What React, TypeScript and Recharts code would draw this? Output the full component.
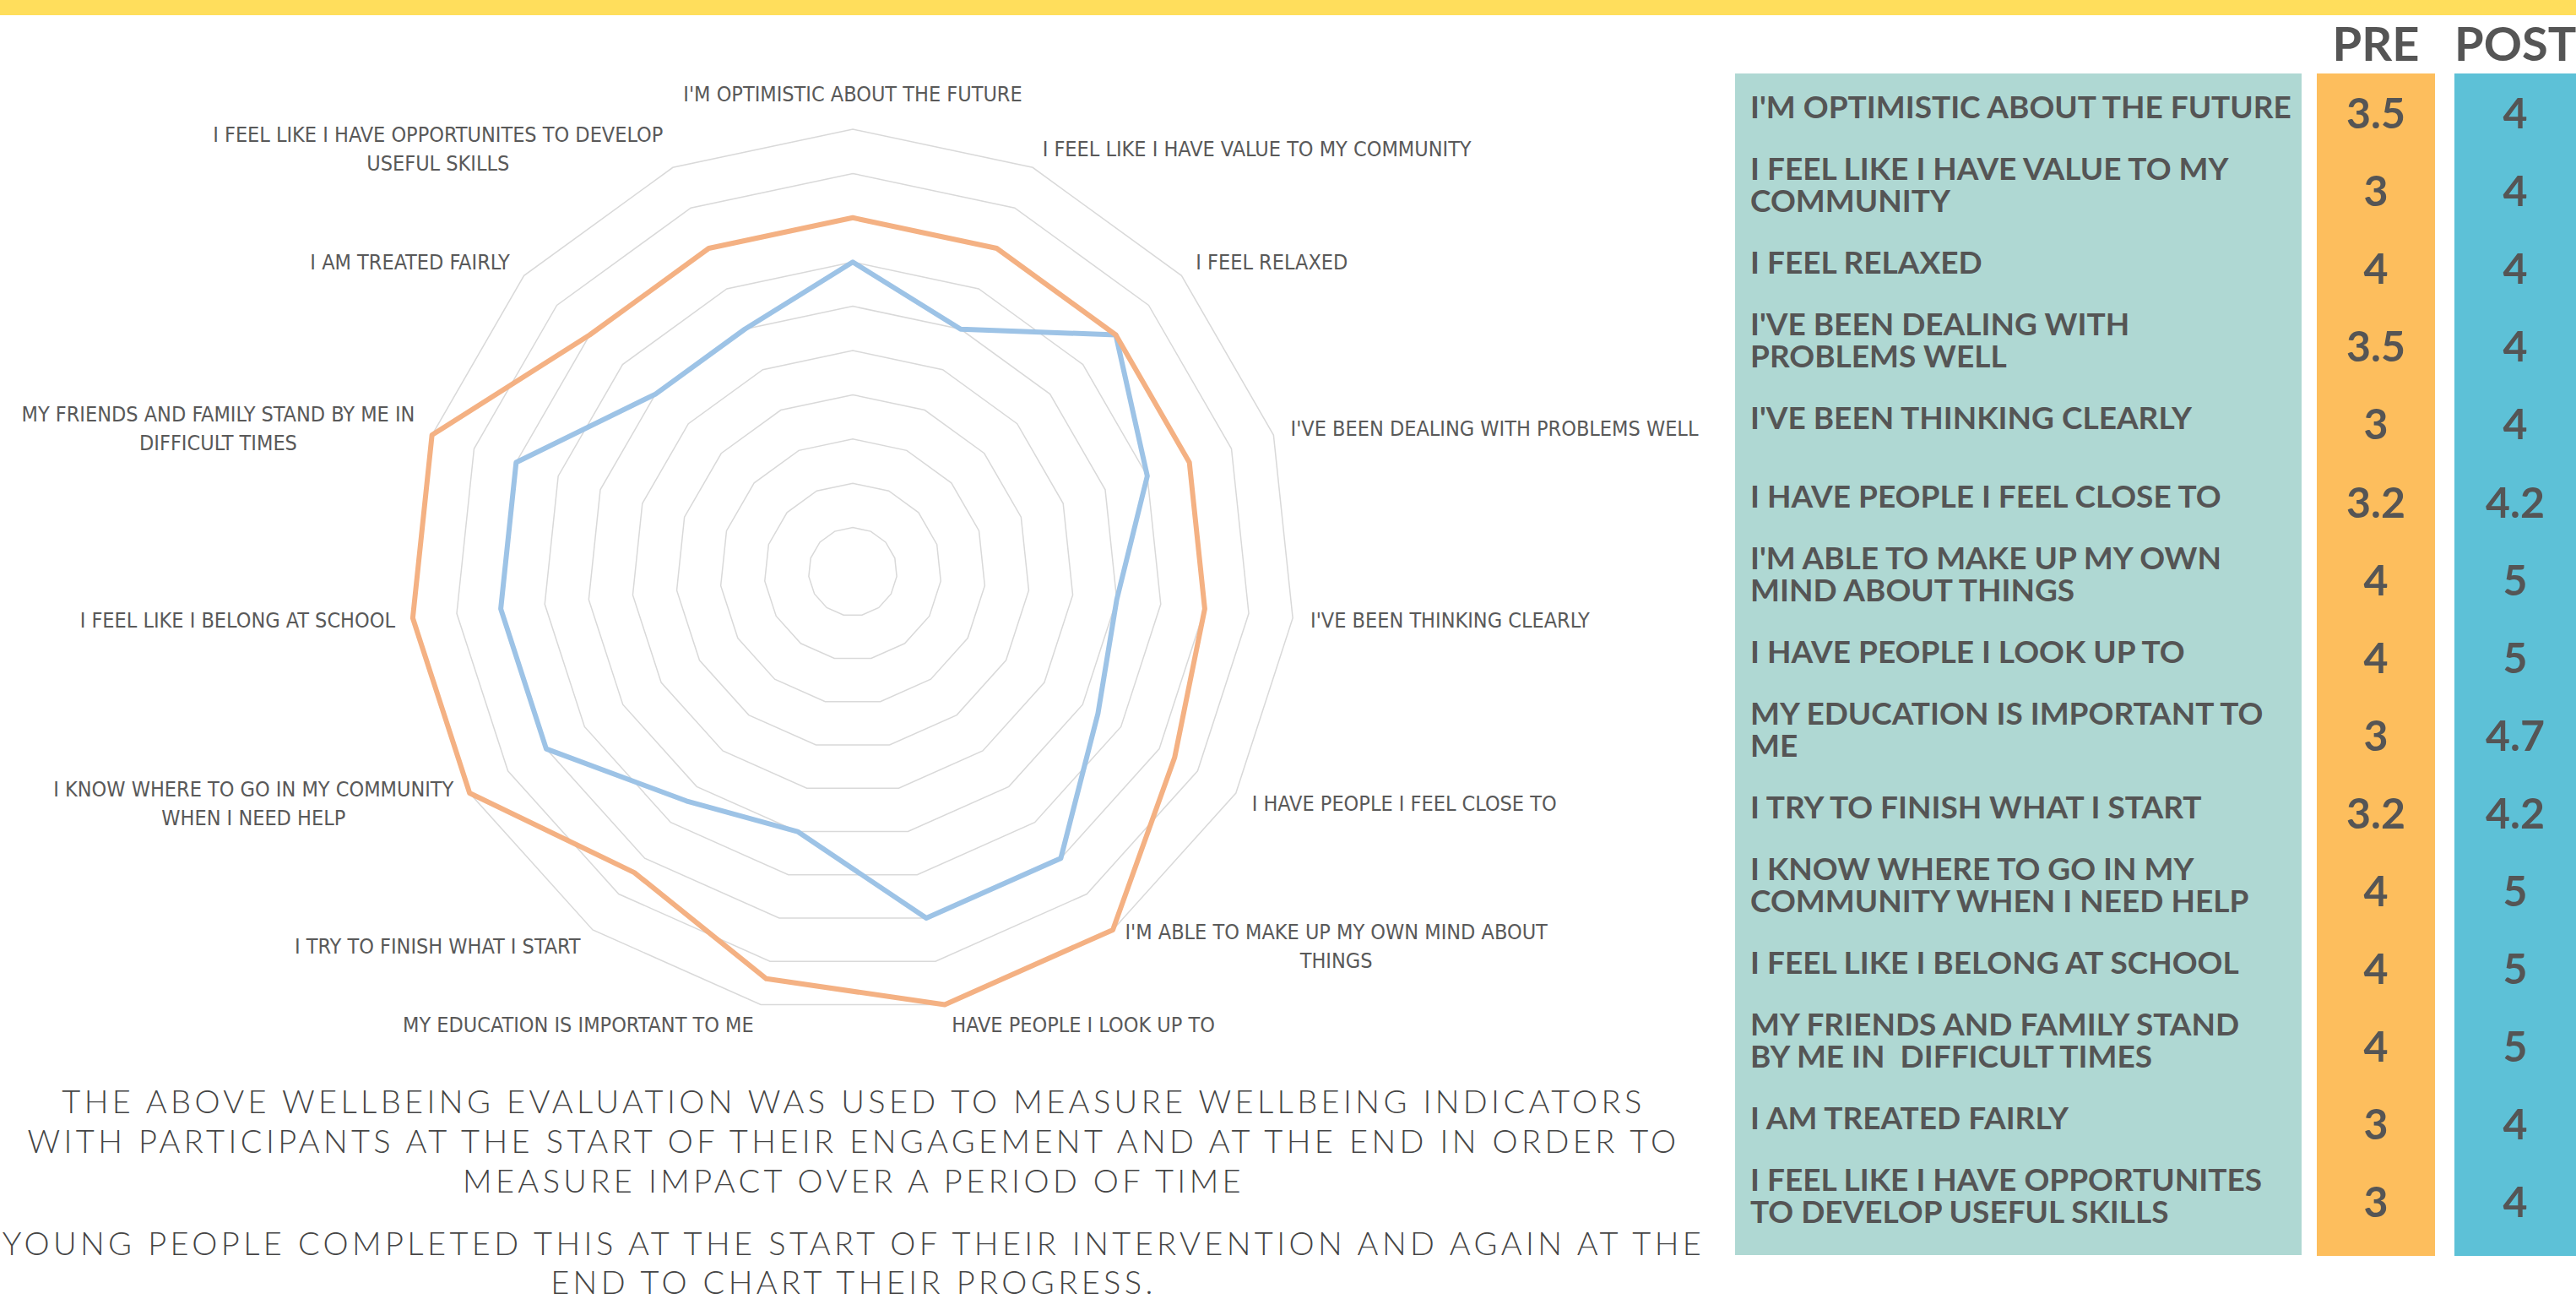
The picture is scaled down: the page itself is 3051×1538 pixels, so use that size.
import React from 'react';
import { RadarChart, Radar, PolarGrid, PolarAngleAxis, PolarRadiusAxis } from 'recharts';

const categories = [
  "I'M OPTIMISTIC ABOUT THE FUTURE",
  'I FEEL LIKE I HAVE VALUE TO MY COMMUNITY',
  'I FEEL RELAXED',
  "I'VE BEEN DEALING WITH PROBLEMS WELL",
  "I'VE BEEN THINKING CLEARLY",
  'I HAVE PEOPLE I FEEL CLOSE TO',
  "I'M ABLE TO MAKE UP MY OWN MIND ABOUT THINGS",
  'I HAVE PEOPLE I LOOK UP TO',
  'MY EDUCATION IS IMPORTANT TO ME',
  'I TRY TO FINISH WHAT I START',
  'I KNOW WHERE TO GO IN MY COMMUNITY WHEN I NEED HELP',
  'I FEEL LIKE I BELONG AT SCHOOL',
  'MY FRIENDS AND FAMILY STAND BY ME IN DIFFICULT TIMES',
  'I AM TREATED FAIRLY',
  'I FEEL LIKE I HAVE OPPORTUNITES TO DEVELOP USEFUL SKILLS',
];

// labels as they sit round the radar (line breaks as in the original)
const radarLabels = [
  ["I'M OPTIMISTIC ABOUT THE FUTURE"],
  ['I FEEL LIKE I HAVE VALUE TO MY COMMUNITY'],
  ['I FEEL RELAXED'],
  ["I'VE BEEN DEALING WITH PROBLEMS WELL"],
  ["I'VE BEEN THINKING CLEARLY"],
  ['I HAVE PEOPLE I FEEL CLOSE TO'],
  ["I'M ABLE TO MAKE UP MY OWN MIND ABOUT", 'THINGS'],
  ['HAVE PEOPLE I LOOK UP TO'],
  ['MY EDUCATION IS IMPORTANT TO ME'],
  ['I TRY TO FINISH WHAT I START'],
  ['I KNOW WHERE TO GO IN MY COMMUNITY', 'WHEN I NEED HELP'],
  ['I FEEL LIKE I BELONG AT SCHOOL'],
  ['MY FRIENDS AND FAMILY STAND BY ME IN', 'DIFFICULT TIMES'],
  ['I AM TREATED FAIRLY'],
  ['I FEEL LIKE I HAVE OPPORTUNITES TO DEVELOP', 'USEFUL SKILLS'],
];

// labels in the table on the right
const tableLabels = [
  ["I'M OPTIMISTIC ABOUT THE FUTURE"],
  ['I FEEL LIKE I HAVE VALUE TO MY', 'COMMUNITY'],
  ['I FEEL RELAXED'],
  ["I'VE BEEN DEALING WITH", 'PROBLEMS WELL'],
  ["I'VE BEEN THINKING CLEARLY"],
  ['I HAVE PEOPLE I FEEL CLOSE TO'],
  ["I'M ABLE TO MAKE UP MY OWN", 'MIND ABOUT THINGS'],
  ['I HAVE PEOPLE I LOOK UP TO'],
  ['MY EDUCATION IS IMPORTANT TO', 'ME'],
  ['I TRY TO FINISH WHAT I START'],
  ['I KNOW WHERE TO GO IN MY', 'COMMUNITY WHEN I NEED HELP'],
  ['I FEEL LIKE I BELONG AT SCHOOL'],
  ['MY FRIENDS AND FAMILY STAND', 'BY ME IN  DIFFICULT TIMES'],
  ['I AM TREATED FAIRLY'],
  ['I FEEL LIKE I HAVE OPPORTUNITES', 'TO DEVELOP USEFUL SKILLS'],
];

const preScores = [3.5, 3, 4, 3.5, 3, 3.2, 4, 4, 3, 3.2, 4, 4, 4, 3, 3];
const postScores = [4, 4, 4, 4, 4, 4.2, 5, 5, 4.7, 4.2, 5, 5, 5, 4, 4];

// concentric rings of the radar (score scale 0 - 5, every half point)
const gridValues = [0.5, 1, 1.5, 2, 2.5, 3, 3.5, 4, 4.5, 5];
const SCORE_MAX = 5;

const captionTop = [
  'THE ABOVE WELLBEING EVALUATION WAS USED TO MEASURE WELLBEING INDICATORS',
  'WITH PARTICIPANTS AT THE START OF THEIR ENGAGEMENT AND AT THE END IN ORDER TO',
  'MEASURE IMPACT OVER A PERIOD OF TIME',
];
const captionBottom = [
  'YOUNG PEOPLE COMPLETED THIS AT THE START OF THEIR INTERVENTION AND AGAIN AT THE',
  'END TO CHART THEIR PROGRESS.',
];

const data = categories.map((name, i) => ({ name, pre: preScores[i], post: postScores[i] }));

const CX = 1010;
const CY = 677;
const RADIUS = 524;
const LABEL_SIZE = 25;
const LABEL_FONT = "'Liberation Sans Narrow', 'DejaVu Sans Condensed', sans-serif";
const TEXT_GREY = '#555555';

let measureCtx: CanvasRenderingContext2D | null = null;
const measure = (text: string) => {
  if (!measureCtx) measureCtx = document.createElement('canvas').getContext('2d');
  if (!measureCtx) return text.length * LABEL_SIZE * 0.5;
  measureCtx.font = `${LABEL_SIZE}px ${LABEL_FONT}`;
  return measureCtx.measureText(text).width;
};

const renderAngleTick = ({ payload, index }: any) => {
  const lines = radarLabels[index] || [String(payload.value)];
  const rad = (-payload.coordinate * Math.PI) / 180;
  const dirX = Math.cos(rad);
  const dirY = Math.sin(rad);
  const r = RADIUS + 16;
  let x = CX + r * dirX;
  let y = CY + r * dirY;
  let anchor: 'start' | 'end' | 'middle' = 'middle';
  if (Math.abs(dirX) < 0.05) {
    y += dirY * 26;
  } else {
    y += dirY * 8;
    anchor = dirX > 0 ? 'start' : 'end';
    x += dirX > 0 ? 5 : -5;
  }
  const lineH = 34;
  const blockW = Math.max(...lines.map(measure));
  let lx = x;
  if (lines.length > 1 && anchor !== 'middle') {
    lx = anchor === 'start' ? x + blockW / 2 : x - blockW / 2;
  }
  return (
    <g>
      {lines.map((line, k) => (
        <text
          key={k}
          x={lines.length > 1 ? lx : x}
          y={y + (k - (lines.length - 1) / 2) * lineH}
          textAnchor={lines.length > 1 ? 'middle' : anchor}
          dominantBaseline="central"
          fontFamily={LABEL_FONT}
          fontSize={LABEL_SIZE}
          fill="#595959"
        >
          {line}
        </text>
      ))}
    </g>
  );
};

const ROW_TOP = 131;
const ROW_STEP = 92.1;

const captionStyle: React.CSSProperties = {
  position: 'absolute',
  left: 0,
  width: 2022,
  textAlign: 'center',
  fontFamily: 'Lato, sans-serif',
  fontWeight: 300,
  fontSize: 38,
  letterSpacing: 4.4,
  color: '#454545',
  whiteSpace: 'nowrap',
};

export default function App() {
  return (
    <div style={{ position: 'absolute', left: 0, top: 0, width: 3051, height: 1538, background: '#ffffff', overflow: 'hidden' }}>
      <div style={{ position: 'absolute', left: 0, top: 0, width: 3051, height: 18, background: '#FFDE5C' }} />

      <div style={{ position: 'absolute', left: 0, top: 0 }}>
        <RadarChart
          width={2040}
          height={1270}
          data={data}
          cx={CX}
          cy={CY}
          outerRadius={RADIUS}
          margin={{ top: 0, right: 0, bottom: 0, left: 0 }}
        >
          <PolarGrid
            gridType="polygon"
            radialLines={false}
            polarRadius={gridValues.map((v) => (v / SCORE_MAX) * RADIUS)}
            stroke="#d9d9d9"
            strokeWidth={1.5}
          />
          <PolarRadiusAxis domain={[0, SCORE_MAX]} tickCount={11} tick={false} axisLine={false} />
          <PolarAngleAxis dataKey="name" tick={renderAngleTick} tickLine={false} axisLine={false} />
          <Radar
            dataKey="pre"
            stroke="#9DC3E6"
            strokeWidth={6}
            strokeLinejoin="round"
            fill="none"
            fillOpacity={0}
            dot={false}
            isAnimationActive={false}
          />
          <Radar
            dataKey="post"
            stroke="#F4B183"
            strokeWidth={6}
            strokeLinejoin="round"
            fill="none"
            fillOpacity={0}
            dot={false}
            isAnimationActive={false}
          />
        </RadarChart>
      </div>

      {/* caption under the radar */}
      <div style={{ ...captionStyle, top: 1280, lineHeight: '47px' }}>
        {captionTop.map((l, i) => <div key={i}>{l}</div>)}
      </div>
      <div style={{ ...captionStyle, top: 1448, lineHeight: '46px' }}>
        {captionBottom.map((l, i) => <div key={i}>{l}</div>)}
      </div>

      {/* PRE / POST table */}
      <div style={{ position: 'absolute', left: 2055, top: 87, width: 671, height: 1399, background: '#AFD8D3' }} />
      <div style={{ position: 'absolute', left: 2744, top: 87, width: 140, height: 1400, background: '#FDBE5D' }} />
      <div style={{ position: 'absolute', left: 2907, top: 87, width: 144, height: 1400, background: '#5DC1D7' }} />
      <div style={{ position: 'absolute', left: 2744, top: 18, width: 140, height: 66, lineHeight: '66px', textAlign: 'center', fontFamily: 'Lato, sans-serif', fontWeight: 700, fontSize: 56, color: TEXT_GREY }}>PRE</div>
      <div style={{ position: 'absolute', left: 2907, top: 18, width: 144, height: 66, lineHeight: '66px', textAlign: 'center', fontFamily: 'Lato, sans-serif', fontWeight: 700, fontSize: 56, color: TEXT_GREY }}>POST</div>

      {tableLabels.map((lines, i) => {
        const rowCenter = ROW_TOP + ROW_STEP * i;
        const lh = 38;
        return (
          <React.Fragment key={i}>
            <div style={{ position: 'absolute', left: 2073, width: 650, top: rowCenter - 5 - (lines.length * lh) / 2, fontFamily: 'Lato, sans-serif', fontWeight: 700, fontSize: 37, lineHeight: `${lh}px`, color: TEXT_GREY, whiteSpace: 'pre' }}>
              {lines.map((l, k) => <div key={k}>{l}</div>)}
            </div>
            <div style={{ position: 'absolute', left: 2744, width: 140, top: rowCenter + 2 - 30, height: 60, lineHeight: '60px', textAlign: 'center', fontFamily: 'Lato, sans-serif', fontWeight: 700, fontSize: 50, color: TEXT_GREY }}>
              {String(preScores[i])}
            </div>
            <div style={{ position: 'absolute', left: 2907, width: 144, top: rowCenter + 2 - 30, height: 60, lineHeight: '60px', textAlign: 'center', fontFamily: 'Lato, sans-serif', fontWeight: 700, fontSize: 50, color: TEXT_GREY }}>
              {String(postScores[i])}
            </div>
          </React.Fragment>
        );
      })}
    </div>
  );
}
